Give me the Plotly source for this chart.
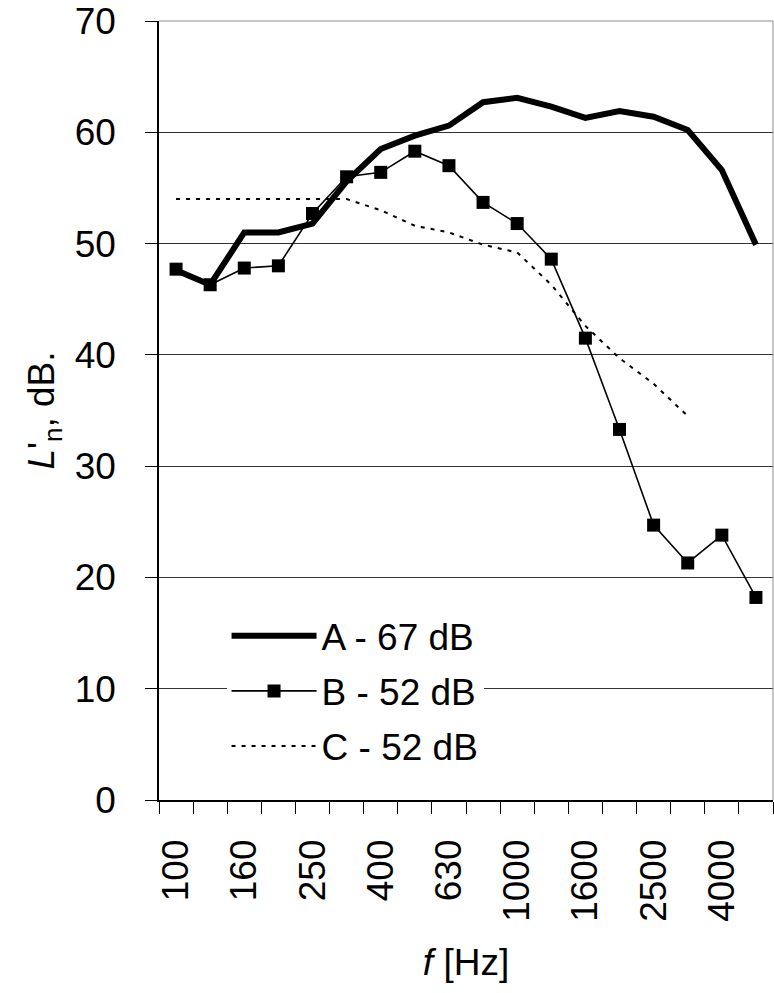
import plotly.graph_objects as go

# One-third-octave band centre frequencies [Hz]
freqs = ["100", "125", "160", "200", "250", "315", "400", "500", "630",
         "800", "1000", "1250", "1600", "2000", "2500", "3150", "4000", "5000"]

# Normalised impact sound pressure level L'n [dB]
series_a = [47.6, 46.3, 51.0, 51.0, 51.8, 55.6, 58.5, 59.7, 60.6,
            62.7, 63.1, 62.3, 61.3, 61.9, 61.4, 60.2, 56.6, 49.9]
series_b = [47.7, 46.3, 47.8, 48.0, 52.7, 56.0, 56.4, 58.3, 57.0,
            53.7, 51.8, 48.6, 41.5, 33.3, 24.7, 21.3, 23.8, 18.2]
series_c = [54.0, 54.0, 54.0, 54.0, 54.0, 54.0, 53.0, 51.6, 51.0,
            49.9, 49.2, 46.3, 42.6, 39.7, 37.4, 34.5, None, None]

names = ["A - 67 dB", "B - 52 dB", "C - 52 dB"]
y_ticks = [0, 10, 20, 30, 40, 50, 60, 70]

idx = list(range(len(freqs)))
FONT = "Liberation Sans, Arial, sans-serif"
FS = 37

fig = go.Figure()
fig.add_trace(go.Scatter(
    x=idx, y=series_a, name=names[0], mode="lines", legendgroup="a",
    line=dict(color="black", width=6)))
fig.add_trace(go.Scatter(
    x=idx, y=series_b, name=names[1], mode="lines+markers", legendgroup="b",
    line=dict(color="black", width=1.6),
    marker=dict(symbol="square", size=13, color="black")))
fig.add_trace(go.Scatter(
    x=idx, y=series_c, name=names[2], mode="lines", legendgroup="c",
    line=dict(color="black", width=2, dash="4px,6px")))

frame = dict(color="#8c8c8c", width=1)
fig.update_layout(
    width=774, height=993,
    margin=dict(l=159, r=1, t=21, b=193, autoexpand=False),
    paper_bgcolor="white", plot_bgcolor="white",
    font=dict(family=FONT, size=FS, color="black"),
    showlegend=True,
    legend=dict(
        x=0.11, y=0.25, xanchor="left", yanchor="top",
        bgcolor="white", borderwidth=0,
        font=dict(family=FONT, size=FS, color="black"),
        itemwidth=85, tracegroupgap=4,
    ),
    shapes=[
        dict(type="line", xref="paper", yref="paper", x0=0, x1=1, y0=1, y1=1,
             line=frame, layer="above"),
        dict(type="line", xref="paper", yref="paper", x0=1, x1=1, y0=0, y1=1,
             line=frame, layer="above"),
    ],
)

fig.update_xaxes(
    range=[-0.5, len(freqs) - 0.5],
    tickmode="array", tickvals=idx[::2], ticktext=freqs[::2],
    tickfont=dict(family=FONT, size=FS, color="black"),
    tickangle=-90, ticks="", ticklabelstandoff=23,
    minor=dict(tickmode="array",
               tickvals=[i - 0.5 for i in range(len(freqs) + 1)],
               ticks="outside", ticklen=12, tickcolor="black",
               tickwidth=1, showgrid=False),
    showline=True, linecolor="black", linewidth=1.5,
    showgrid=False, zeroline=False, automargin=False,
    title=dict(text="<i>f</i> [Hz]", font=dict(family=FONT, size=FS), standoff=28),
)
fig.update_yaxes(
    range=[0, 70], tickmode="array", tickvals=y_ticks,
    tickfont=dict(family=FONT, size=FS, color="black"),
    ticks="outside", ticklen=12, tickcolor="black", tickwidth=1,
    ticklabelstandoff=22,
    showline=True, linecolor="black", linewidth=1.5,
    showgrid=True, gridcolor="#333333", gridwidth=1,
    zeroline=False, automargin=False,
    title=dict(text="<i>L</i>'<sub>n</sub>, dB.", font=dict(family=FONT, size=FS),
               standoff=9),
)

fig.write_html("out.html")
